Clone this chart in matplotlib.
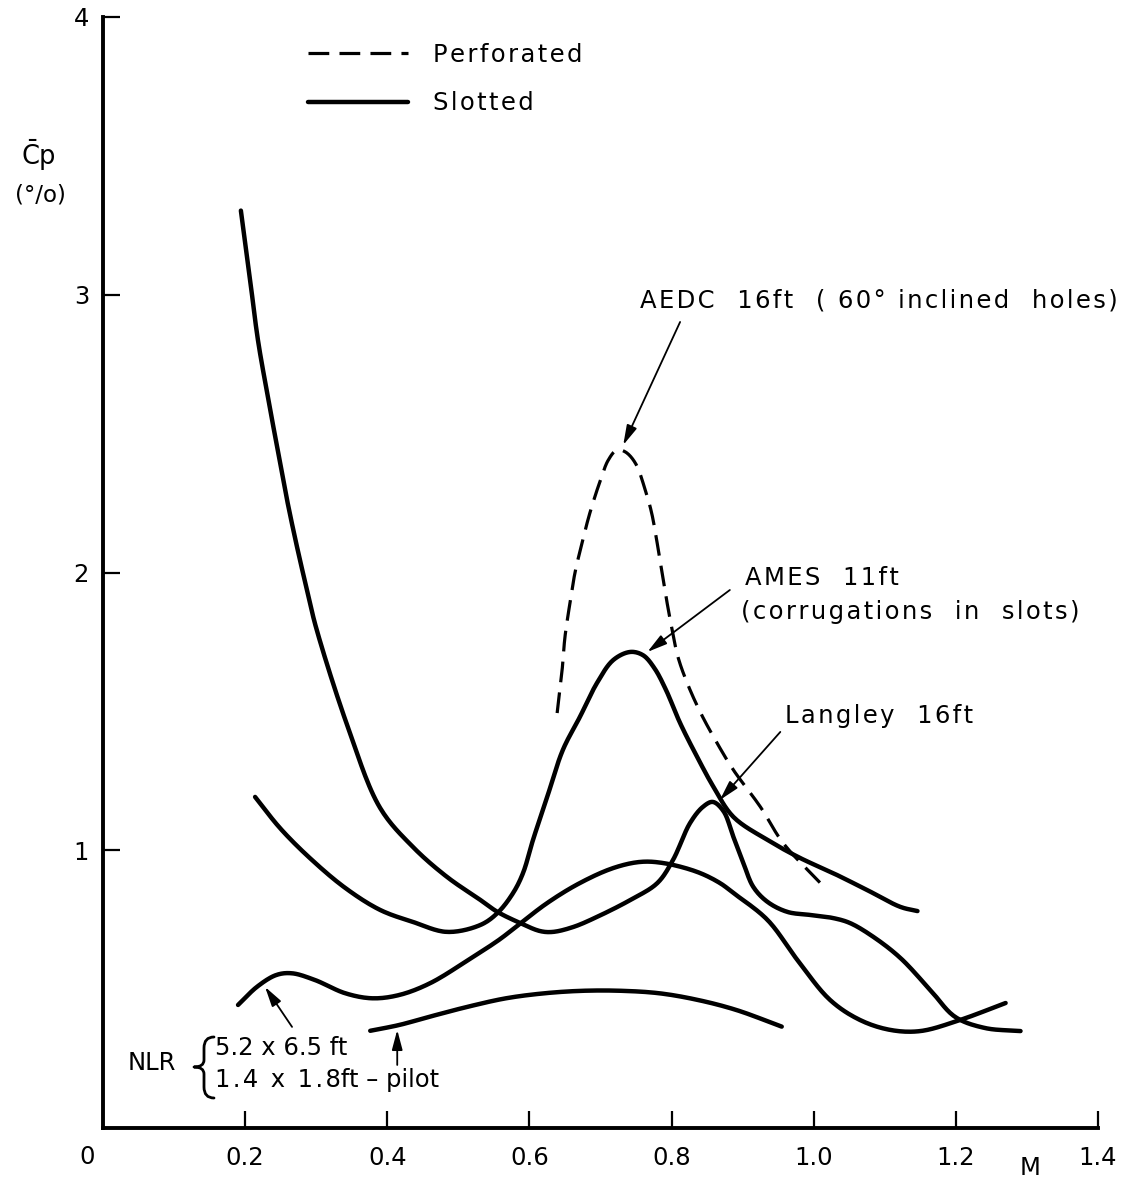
import numpy as np
import matplotlib
matplotlib.use("Agg")
import matplotlib.pyplot as plt
from matplotlib.path import Path
from matplotlib.patches import PathPatch

# ---- data: mean pressure fluctuation level vs Mach number ----
langley_m = [0.194, 0.207, 0.218, 0.231, 0.245, 0.259, 0.273, 0.287, 0.300, 0.345,
             0.390, 0.436, 0.484, 0.531, 0.555, 0.587, 0.615, 0.633, 0.662, 0.695,
             0.742, 0.780, 0.802, 0.826, 0.844, 0.858, 0.873, 0.887, 0.901, 0.915,
             0.935, 0.963, 0.995, 1.027, 1.051, 1.084, 1.122, 1.164, 1.199, 1.241, 1.291]
langley_cp = [3.303, 3.053, 2.837, 2.646, 2.452, 2.261, 2.092, 1.937, 1.800, 1.440,
              1.152, 1.012, 0.904, 0.821, 0.778, 0.738, 0.709, 0.706, 0.724, 0.760,
              0.821, 0.882, 0.965, 1.098, 1.156, 1.174, 1.141, 1.048, 0.954, 0.868,
              0.814, 0.778, 0.767, 0.756, 0.738, 0.688, 0.612, 0.497, 0.400, 0.360, 0.349]

ames_m = [0.214, 0.249, 0.291, 0.341, 0.390, 0.436, 0.484, 0.531, 0.555, 0.577,
          0.591, 0.605, 0.625, 0.647, 0.671, 0.695, 0.718, 0.742, 0.760, 0.776,
          0.792, 0.812, 0.836, 0.859, 0.887, 0.935, 0.981, 1.027, 1.075, 1.122, 1.146]
ames_cp = [1.192, 1.080, 0.972, 0.864, 0.785, 0.742, 0.706, 0.731, 0.774, 0.846,
           0.918, 1.037, 1.192, 1.361, 1.480, 1.602, 1.685, 1.714, 1.702, 1.655,
           1.578, 1.458, 1.336, 1.228, 1.120, 1.037, 0.972, 0.918, 0.857, 0.796, 0.781]

nlr_m = [0.190, 0.217, 0.244, 0.266, 0.298, 0.341, 0.379, 0.417, 0.460, 0.514,
         0.557, 0.577, 0.625, 0.671, 0.718, 0.756, 0.788, 0.836, 0.868, 0.887,
         0.935, 0.977, 1.023, 1.065, 1.108, 1.150, 1.206, 1.270]
nlr_cp = [0.443, 0.509, 0.551, 0.557, 0.533, 0.485, 0.467, 0.479, 0.521, 0.605,
          0.677, 0.716, 0.810, 0.882, 0.936, 0.958, 0.954, 0.922, 0.882, 0.846,
          0.749, 0.605, 0.461, 0.389, 0.353, 0.349, 0.389, 0.450]

pilot_m = [0.376, 0.417, 0.460, 0.514, 0.567, 0.621, 0.675, 0.729, 0.783, 0.837, 0.891, 0.955]
pilot_cp = [0.350, 0.371, 0.401, 0.437, 0.467, 0.485, 0.494, 0.494, 0.485, 0.461, 0.425, 0.365]

aedc_m = [0.639, 0.646, 0.650, 0.657, 0.664, 0.674, 0.685, 0.700, 0.711, 0.723,
          0.735, 0.749, 0.763, 0.772, 0.779, 0.786, 0.793, 0.800, 0.809, 0.822,
          0.841, 0.864, 0.887, 0.925, 0.957, 1.012]
aedc_cp = [1.494, 1.649, 1.768, 1.890, 1.998, 2.106, 2.214, 2.333, 2.405, 2.441,
           2.434, 2.394, 2.297, 2.214, 2.117, 2.009, 1.901, 1.804, 1.696, 1.602,
           1.494, 1.386, 1.289, 1.156, 1.026, 0.875]

x_ticks = [0.2, 0.4, 0.6, 0.8, 1.0, 1.2, 1.4]
x_tick_labels = ["0.2", "0.4", "0.6", "0.8", "1.0", "1.2", "1.4"]
y_ticks = [1, 2, 3, 4]
y_tick_labels = ["1", "2", "3", "4"]

# approximate on-screen scale (px per unit) used only for curve smoothing
SX, SY = 710.5, 277.75
W, H = 1137, 1181


def smooth(xs, ys, n=16):
    """Centripetal Catmull-Rom curve through the read points."""
    pts = np.column_stack([np.asarray(xs) * SX, np.asarray(ys) * SY])
    P = np.vstack([2 * pts[0] - pts[1], pts, 2 * pts[-1] - pts[-2]])
    out = []
    for i in range(1, len(P) - 2):
        p0, p1, p2, p3 = P[i - 1], P[i], P[i + 1], P[i + 2]
        t0 = 0.0
        t1 = t0 + np.linalg.norm(p1 - p0) ** 0.5
        t2 = t1 + np.linalg.norm(p2 - p1) ** 0.5
        t3 = t2 + np.linalg.norm(p3 - p2) ** 0.5
        t = np.linspace(t1, t2, n, endpoint=False)[:, None]
        a1 = (t1 - t) / (t1 - t0) * p0 + (t - t0) / (t1 - t0) * p1
        a2 = (t2 - t) / (t2 - t1) * p1 + (t - t1) / (t2 - t1) * p2
        a3 = (t3 - t) / (t3 - t2) * p2 + (t - t2) / (t3 - t2) * p3
        b1 = (t2 - t) / (t2 - t0) * a1 + (t - t0) / (t2 - t0) * a2
        b2 = (t3 - t) / (t3 - t1) * a2 + (t - t1) / (t3 - t1) * a3
        out.append((t2 - t) / (t2 - t1) * b1 + (t - t1) / (t2 - t1) * b2)
    out.append(pts[-1:])
    out = np.vstack(out)
    return out[:, 0] / SX, out[:, 1] / SY


def tracked(s):
    """Open letter spacing, as in stencil lettering."""
    return "\u200a".join(s)


FS = 17.5
plt.rcParams["font.family"] = ["DejaVu Sans"]

fig = plt.figure(figsize=(W / 100, H / 100), dpi=100)
ax = fig.add_axes([103 / W, 53 / H, 995 / W, 1111 / H])

LW = 3.2
solid = dict(color="black", lw=LW, solid_capstyle="round", solid_joinstyle="round")

l_slot, = ax.plot(*smooth(langley_m, langley_cp), label=tracked("Slotted"), **solid)
ax.plot(*smooth(ames_m, ames_cp), **solid)
ax.plot(*smooth(nlr_m, nlr_cp), **solid)
ax.plot(*smooth(pilot_m, pilot_cp), **solid)
l_perf, = ax.plot(*smooth(aedc_m, aedc_cp), color="black", lw=2.3,
                  linestyle=(0, (6.5, 3.2)), dash_capstyle="butt",
                  label=tracked("Perforated"))

ax.set_xlim(0, 1.4)
ax.set_ylim(0, 4)
for s in ("top", "right"):
    ax.spines[s].set_visible(False)
for s in ("left", "bottom"):
    ax.spines[s].set_linewidth(2.8)

ax.set_xticks(x_ticks)
ax.set_xticklabels(x_tick_labels)
ax.set_yticks(y_ticks)
ax.set_yticklabels(y_tick_labels)
ax.tick_params(axis="both", direction="in", length=12, width=1.6, labelsize=FS)
ax.tick_params(axis="x", pad=13)
ax.tick_params(axis="y", pad=10)

ax.text(-0.0225, -0.104, "0", fontsize=FS, ha="center", va="center", clip_on=False)
ax.text(1.305, -0.144, "M", fontsize=FS, ha="center", va="center", clip_on=False)

fig.text(38 / W, 1 - 155 / H, r"$\mathregular{\bar{C}}$p", fontsize=FS + 1,
         ha="center", va="center")
fig.text(40 / W, 1 - 195 / H, "(°/o)", fontsize=FS - 1, ha="center", va="center")

leg = ax.legend(handles=[l_perf, l_slot], loc="upper left",
                bbox_to_anchor=(308 / W, 1 - 43 / H),
                bbox_transform=fig.transFigure, frameon=False, fontsize=FS,
                handlelength=4.1, handletextpad=1.05, labelspacing=1.0,
                borderpad=0, borderaxespad=0)

# labels with leader arrows
arrow = dict(arrowstyle="-|>,head_length=0.6,head_width=0.16", lw=1.3,
             color="black", shrinkA=0, shrinkB=0, mutation_scale=20)

ax.text(0.756, 2.981, tracked("AEDC  16ft  ( 60° inclined  holes)"), fontsize=FS,
        ha="left", va="center")
ax.annotate("", xy=(0.732, 2.459), xytext=(0.812, 2.902), arrowprops=arrow)

ax.text(0.904, 1.980, tracked("AMES  11ft"), fontsize=FS, ha="left", va="center")
ax.text(0.897, 1.858, tracked("(corrugations  in  slots)"), fontsize=FS,
        ha="left", va="center")
ax.annotate("", xy=(0.766, 1.714), xytext=(0.882, 1.937), arrowprops=arrow)

ax.text(0.960, 1.483, tracked("Langley  16ft"), fontsize=FS, ha="left", va="center")
ax.annotate("", xy=(0.868, 1.181), xytext=(0.953, 1.426), arrowprops=arrow)

# NLR group label with a curly brace
ax.text(0.035, 0.234, "NLR", fontsize=FS, ha="left", va="center")
brace_px = [(214, 1037), (204, 1037), (204, 1048), (204, 1060), (204, 1067), (194, 1067),
            (204, 1067), (204, 1074), (204, 1087), (204, 1098), (214, 1098)]
brace_codes = [Path.MOVETO, Path.CURVE3, Path.CURVE3, Path.LINETO, Path.CURVE3,
               Path.CURVE3, Path.CURVE3, Path.CURVE3, Path.LINETO, Path.CURVE3, Path.CURVE3]
brace = Path([(px / W, 1 - py / H) for px, py in brace_px], brace_codes)
fig.add_artist(PathPatch(brace, transform=fig.transFigure, fill=False, lw=2.0,
                         edgecolor="black", capstyle="round", joinstyle="round"))
ax.text(0.158, 0.288, "5.2 x 6.5 ft", fontsize=FS, ha="left", va="center")
ax.text(0.158, 0.173, tracked("1.4 x 1.8") + "ft – pilot", fontsize=FS,
        ha="left", va="center")
ax.annotate("", xy=(0.228, 0.508), xytext=(0.266, 0.364), arrowprops=arrow)
ax.annotate("", xy=(0.414, 0.353), xytext=(0.414, 0.227), arrowprops=arrow)

fig.savefig("out.png", dpi=100)
